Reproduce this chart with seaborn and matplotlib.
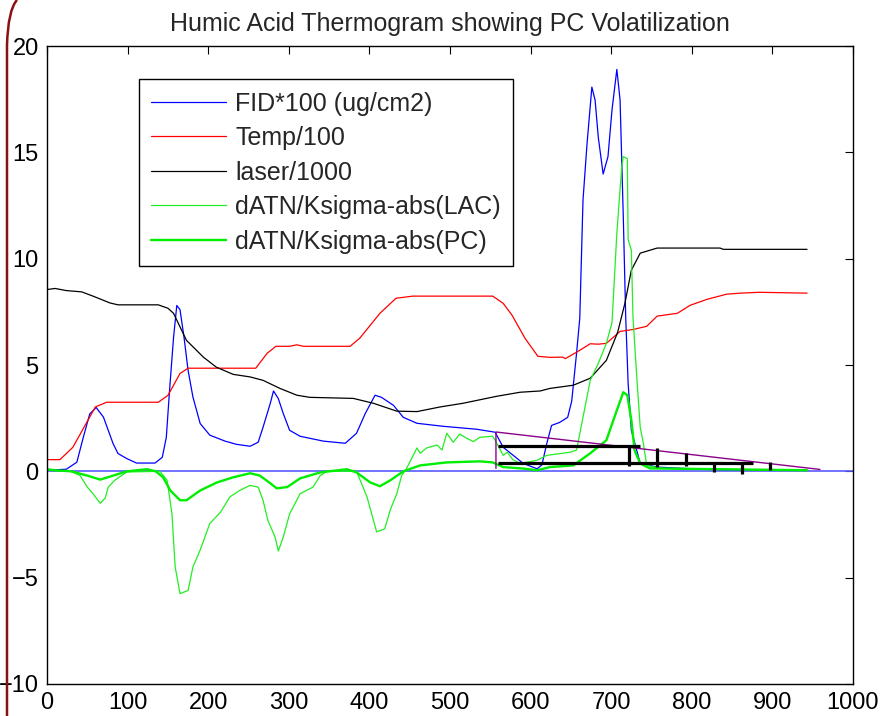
import numpy as np
import pandas as pd
import seaborn as sns
import matplotlib.pyplot as plt
from matplotlib.path import Path
from matplotlib.patches import PathPatch

# Valores (tempo em s, valores escalados)
temp_x = [0, 16, 32, 60, 74, 138, 150, 165, 175, 259, 273, 284, 301, 310, 318, 376, 388, 413, 433, 454,
          553, 566, 577, 593, 609, 624, 640, 643, 657, 674, 684, 694, 711, 727, 744, 757, 782, 798, 819,
          843, 860, 884, 943]
temp_y = [0.55, 0.55, 1.13, 3.03, 3.25, 3.25, 3.57, 4.6, 4.85, 4.85, 5.55, 5.88, 5.88, 5.95, 5.88, 5.88,
          6.26, 7.43, 8.14, 8.24, 8.24, 7.9, 7.34, 6.26, 5.41, 5.36, 5.37, 5.3, 5.6, 6.0, 5.98, 6.02, 6.58,
          6.67, 6.82, 7.3, 7.43, 7.81, 8.09, 8.33, 8.38, 8.42, 8.38]

laser_x = [0, 10, 24, 43, 57, 78, 88, 138, 150, 157, 173, 194, 210, 231, 252, 268, 289, 310, 326, 380,
           405, 434, 459, 488, 516, 558, 587, 612, 624, 653, 674, 694, 708, 717, 725, 736, 757, 835, 839, 943]
laser_y = [8.55, 8.6, 8.5, 8.44, 8.24, 7.92, 7.83, 7.83, 7.67, 7.43, 6.16, 5.37, 4.9, 4.56, 4.44, 4.28,
           3.9, 3.58, 3.48, 3.43, 3.2, 2.83, 2.81, 3.03, 3.2, 3.53, 3.72, 3.78, 3.9, 4.05, 4.38, 5.22, 6.54,
           7.9, 9.46, 10.26, 10.5, 10.5, 10.44, 10.44]

fid_x = [0, 24, 37, 45, 53, 61, 70, 82, 88, 99, 111, 134, 143, 148, 152, 157, 161, 165, 170, 175, 181,
         190, 202, 221, 235, 252, 262, 268, 277, 281, 287, 293, 301, 314, 343, 370, 384, 395, 407, 415,
         430, 442, 459, 491, 533, 556, 566, 591, 608, 614, 620, 626, 636, 646, 651, 657, 661, 665, 670,
         676, 680, 684, 690, 696, 701, 707, 711, 715, 718, 721, 725, 736, 757, 794, 827, 909, 943]
fid_y = [0.05, 0.1, 0.43, 1.6, 2.7, 3.0, 2.55, 1.3, 0.84, 0.6, 0.39, 0.39, 0.66, 1.6, 3.8, 6.3, 7.8, 7.6,
         6.3, 4.75, 3.5, 2.25, 1.7, 1.42, 1.27, 1.18, 1.37, 2.07, 3.2, 3.78, 3.42, 2.73, 1.93, 1.65, 1.42,
         1.32, 1.79, 2.73, 3.58, 3.48, 3.1, 2.54, 2.26, 2.12, 1.98, 1.84, 1.13, 0.37, 0.12, 0.3, 1.3, 2.16,
         2.3, 2.54, 3.3, 5.55, 7.2, 12.75, 15.4, 18.07, 17.46, 15.7, 13.98, 14.8, 17.0, 18.9, 17.46, 11.96,
         7.25, 4.14, 1.93, 0.37, 0.2, 0.13, 0.08, 0.05, 0.05]

lac_x = [0, 30, 41, 50, 57, 66, 72, 76, 84, 99, 140, 149, 155, 159, 165, 175, 181, 190, 202, 215, 227,
         239, 252, 262, 268, 274, 283, 287, 293, 301, 314, 330, 339, 347, 384, 397, 405, 409, 419, 426,
         434, 440, 446, 459, 463, 471, 484, 490, 496, 504, 512, 521, 529, 537, 553, 558, 566, 571, 578,
         587, 608, 620, 649, 657, 665, 674, 684, 694, 701, 707, 713, 715, 720, 721, 725, 727, 732, 736,
         740, 744, 765, 943]
lac_y = [0.05, 0, -0.2, -0.74, -1.05, -1.5, -1.27, -0.74, -0.42, -0.03, 0, -0.42, -2.0, -4.5, -5.75,
         -5.6, -4.5, -3.7, -2.45, -1.93, -1.2, -0.9, -0.66, -0.74, -1.36, -2.3, -3.1, -3.75, -3.1, -2.0,
         -1.05, -0.74, -0.2, 0, 0, -1.2, -2.3, -2.85, -2.7, -1.8, -1.05, -0.2, 0.13, 1.1, 0.85, 1.1, 1.24,
         1.0, 1.79, 1.37, 1.75, 1.55, 1.4, 1.6, 1.65, 1.32, 0.75, 0.9, 0.55, 0.37, 0.52, 0.75, 0.9, 1.0,
         2.54, 4.28, 5.08, 6.02, 7.0, 11.2, 14.3, 14.8, 14.7, 10.9, 10.4, 7.25, 4.28, 2.07, 1.3, 0.28,
         0.13, 0.05]

pc_x = [0, 10, 30, 50, 66, 82, 99, 124, 135, 144, 153, 165, 173, 190, 211, 231, 252, 264, 277, 285,
        298, 314, 339, 372, 384, 401, 413, 426, 442, 463, 496, 537, 553, 566, 591, 608, 624, 653, 674,
        694, 707, 715, 720, 725, 729, 736, 748, 943]
pc_y = [0.1, 0.05, 0, -0.2, -0.39, -0.2, 0, 0.1, 0, -0.28, -0.9, -1.36, -1.36, -0.9, -0.52, -0.28,
        -0.09, -0.2, -0.56, -0.8, -0.74, -0.33, -0.05, 0.1, -0.05, -0.52, -0.7, -0.42, 0, 0.28, 0.42,
        0.47, 0.42, 0.2, 0.13, 0.05, 0.2, 0.28, 0.85, 1.46, 2.87, 3.72, 3.58, 2.4, 0.99, 0.37, 0.14, 0.05]

# linha de base e linha de split (roxa)
zero_x = [0, 1000]
zero_y = [0, 0]
split_x = [557, 557, 959]
split_y = [0.14, 1.85, 0.09]

# barras pretas (incertezas)
bar_y = [1.19, 0.41]
bar_x0 = [560, 560]
bar_x1 = [736, 876]
tick_x = [722, 757, 793, 828, 862, 897]
tick_lo = [0.24, 0.2, 0.24, -0.03, -0.14, 0.05]
tick_hi = [1.19, 1.08, 0.85, 0.41, 0.43, 0.43]

sns.set_style('white')
plt.rcParams['font.family'] = ['Liberation Sans', 'DejaVu Sans']

fig = plt.figure(figsize=(8.89, 7.16), dpi=100)
ax = fig.add_axes([0.0529, 0.0447, 0.9066, 0.891])

sns.lineplot(x=zero_x, y=zero_y, color='#5a5aff', lw=1.2, ax=ax)
sns.lineplot(x=fid_x, y=fid_y, color='#0000ff', lw=0.9, sort=False, estimator=None, ax=ax,
             label='FID*100 (ug/cm2)')
sns.lineplot(x=temp_x, y=temp_y, color='#ff0000', lw=0.9, sort=False, estimator=None, ax=ax,
             label='Temp/100')
sns.lineplot(x=laser_x, y=laser_y, color='black', lw=0.9, sort=False, estimator=None, ax=ax,
             label='laser/1000')
sns.lineplot(x=lac_x, y=lac_y, color='#22ee22', lw=0.9, sort=False, estimator=None, ax=ax,
             label='dATN/Ksigma-abs(LAC)')
sns.lineplot(x=pc_x, y=pc_y, color='#00ee00', lw=1.7, sort=False, estimator=None, ax=ax,
             label='dATN/Ksigma-abs(PC)')
sns.lineplot(x=split_x, y=split_y, color='#8b008b', lw=1.0, sort=False, estimator=None, ax=ax)

ax.hlines(bar_y, bar_x0, bar_x1, color='black', lw=2.3)
ax.vlines(tick_x, tick_lo, tick_hi, color='black', lw=2.3)

ax.set_xlim(0, 1000)
ax.set_ylim(-10, 20)
ax.set_xticks(range(0, 1001, 100))
ax.set_yticks(range(-10, 21, 5))
ax.tick_params(direction='in', length=6, width=0.8, top=True, right=True, labelsize=17, pad=6,
               colors='black')
for s in ax.spines.values():
    s.set_visible(True)
    s.set_color('black')
    s.set_linewidth(1.0)
ax.set_title('Humic Acid Thermogram showing PC Volatilization', fontsize=18, pad=11)

leg = ax.legend(loc='upper left', bbox_to_anchor=(0.114, 0.948), borderaxespad=0, fontsize=18,
                fancybox=False, edgecolor='black', framealpha=1, handlelength=3.0,
                handletextpad=0.35, labelspacing=0.42, borderpad=0.5)
leg.get_frame().set_linewidth(1.0)

# borda vermelha escura à esquerda (como no original)
p = Path([(7 / 889, 0), (7 / 889, 1 - 45 / 716), (8 / 889, 1 - 10 / 716), (17 / 889, 1)],
         [Path.MOVETO, Path.LINETO, Path.CURVE3, Path.CURVE3])
fig.add_artist(PathPatch(p, transform=fig.transFigure, fill=False, edgecolor='#8b1010', lw=1.8))

fig.savefig('out.png', dpi=100)
